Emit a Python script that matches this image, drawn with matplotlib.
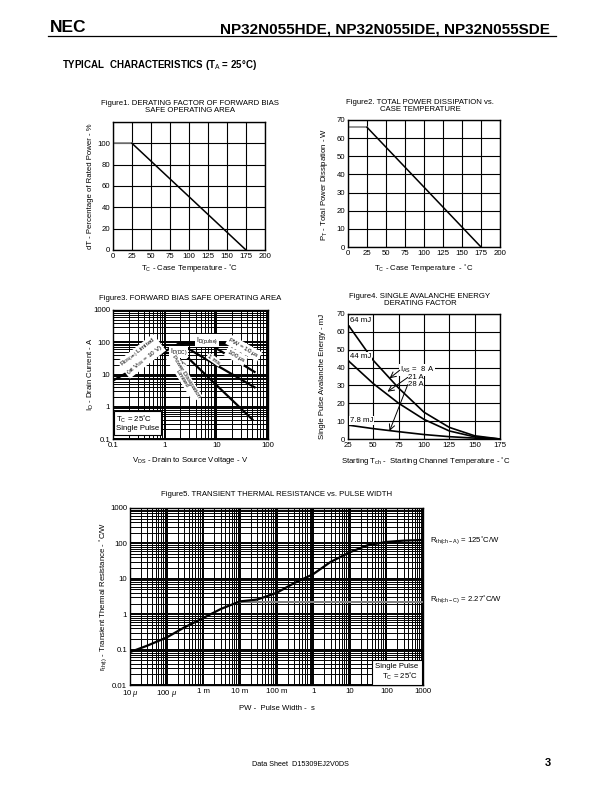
# NEC NP32N055 datasheet page 3 - typical characteristics
import numpy as np
import matplotlib
matplotlib.use('Agg')
import matplotlib.pyplot as plt
from matplotlib.ticker import LogLocator, NullFormatter, FixedLocator

plt.rcParams['font.family'] = ['Liberation Sans', 'DejaVu Sans']
plt.rcParams['mathtext.fontset'] = 'custom'
plt.rcParams['mathtext.rm'] = 'Liberation Sans'
plt.rcParams['mathtext.it'] = 'Liberation Sans:italic'

W, H = 612, 792
fs = 5.6

# figure 1 - derating factor
tc1 = [0, 25, 175]
dt1 = [100, 100, 0]
# figure 2 - total power dissipation
tc2 = [0, 25, 175]
pt2 = [66, 66, 0]
# figure 3 - forward bias SOA
rds_v = [0.1, 1.9]
rds_i = [6.5, 92]
idp_v = [1.9, 20]
idp_i = [92, 92]
pw10u_v = [20, 55]
pw10u_i = [92, 40]
pw100u_v = [7, 55]
pw100u_i = [92, 12]
pw1m_v = [1.9, 55]
pw1m_i = [92, 4]
iddc_v = [0.87, 2.3]
iddc_i = [45, 45]
dc_v = [2.3, 50]
dc_i = [45, 0.4]
# figure 4 - avalanche energy derating
tch = [25, 50, 75, 100, 125, 150, 175]
eas_8a = [64, 44, 28.5, 15, 6.5, 1.8, 0]
eas_21a = [44, 31, 20, 11, 4.5, 1.2, 0]
eas_28a = [7.8, 5.8, 4.1, 2.5, 1.3, 0.5, 0]
# figure 5 - transient thermal resistance
pw = [1e-5, 3e-5, 1e-4, 3e-4, 1e-3, 3e-3, 1e-2, 3e-2, 0.1, 0.3, 1, 3, 10, 30, 100, 300, 1000]
rth_a = [0.085, 0.13, 0.22, 0.42, 0.78, 1.4, 2.3, 2.6, 4.0, 7.5, 13.5, 30, 56, 88, 110, 120, 125]
pw_c = [0.01, 1000]
rth_c = [2.27, 2.27]
pw_ticks = [1e-5, 1e-4, 1e-3, 1e-2, 1e-1, 1, 10, 100, 1000]
pw_labels = ['10 $\\mu$', '100 $\\mu$', '1 m', '10 m', '100 m', '1', '10', '100', '1000']

fig = plt.figure(figsize=(W/100, H/100), dpi=100)

def px_axes(l, r, t, b):
    return fig.add_axes([l/W, 1-b/H, (r-l)/W, (b-t)/H])

def ftext(x, y, s, **kw):
    kw.setdefault('fontsize', fs)
    fig.text(x/W, 1-y/H, s, **kw)

def lin_style(ax):
    ax.grid(True, color='black', lw=0.8)
    ax.tick_params(length=0, labelsize=fs, pad=2)
    for s in ax.spines.values():
        s.set_linewidth(1.0)

def log_style(ax):
    for axis in [ax.xaxis, ax.yaxis]:
        axis.set_minor_locator(LogLocator(base=10, subs=np.arange(2, 10), numticks=20))
        axis.set_minor_formatter(NullFormatter())
    ax.grid(True, which='major', color='black', lw=1.4)
    ax.grid(True, which='minor', color='black', lw=0.7)
    ax.tick_params(which='both', length=0, labelsize=fs, pad=2)
    for s in ax.spines.values():
        s.set_linewidth(1.0)

# header
ftext(50, 28, 'NEC', fontsize=12.5, fontweight='bold', va='center')
ftext(550, 29, 'NP32N055HDE, NP32N055IDE, NP32N055SDE', fontsize=11, fontweight='bold', ha='right', va='center')
fig.add_artist(plt.Line2D([48/W, 556/W], [1-36/H, 1-36/H], color='black', lw=0.9))
ftext(62, 65, 'TYPICAL  CHARACTERISTICS (T$_{\\rm A}$ = 25°C)', fontsize=7, fontweight='bold', va='center')

# figure 1
ax1 = px_axes(113, 265, 122, 250)
ax1.plot(tc1[:2], dt1[:2], color='gray', lw=1.2)
ax1.plot(tc1[1:], dt1[1:], color='black', lw=1.1)
ax1.set_xlim(0, 200)
ax1.set_ylim(0, 120)
ax1.set_xticks(range(0, 201, 25))
ax1.yaxis.set_major_locator(FixedLocator(range(0, 121, 20)))
ax1.set_yticklabels(['0', '20', '40', '60', '80', '100', ''])
lin_style(ax1)
ftext(190, 107, 'Figure1. DERATING FACTOR OF FORWARD BIAS\nSAFE OPERATING AREA', ha='center', va='center', linespacing=0.85)
ftext(190, 268, 'T$_{\\rm C}$ - Case Temperature - ˚C', ha='center', va='center')
ftext(91, 186, 'dT - Percentage of Rated Power - %', rotation=90, ha='center', va='center')

# figure 2
ax2 = px_axes(348, 500, 120, 247)
ax2.plot(tc2[:2], pt2[:2], color='gray', lw=1.2)
ax2.plot(tc2[1:], pt2[1:], color='black', lw=1.1)
ax2.set_xlim(0, 200)
ax2.set_ylim(0, 70)
ax2.set_xticks(range(0, 201, 25))
ax2.set_yticks(range(0, 71, 10))
lin_style(ax2)
ftext(420, 106, 'Figure2. TOTAL POWER DISSIPATION vs.\nCASE TEMPERATURE', ha='center', va='center', linespacing=0.85)
ftext(424, 268, 'T$_{\\rm C}$ - Case Temperature  - ˚C', ha='center', va='center')
ftext(325, 184, 'P$_{\\rm T}$ - Total Power Dissipation - W', rotation=90, ha='center', va='center')

# figure 3
ax3 = px_axes(113, 268, 310, 439)
ax3.set_xscale('log')
ax3.set_yscale('log')
ax3.set_xlim(0.1, 100)
ax3.set_ylim(0.1, 1000)
for vx, iy in [(rds_v, rds_i), (idp_v, idp_i), (pw10u_v, pw10u_i), (pw100u_v, pw100u_i),
               (pw1m_v, pw1m_i), (iddc_v, iddc_i), (dc_v, dc_i)]:
    ax3.plot(vx, iy, color='black', lw=1.6, zorder=3)
ax3.set_xticks([0.1, 1, 10, 100])
ax3.set_xticklabels(['0.1', '1', '10', '100'])
ax3.set_yticks([0.1, 1, 10, 100, 1000])
ax3.set_yticklabels(['0.1', '1', '10', '100', '1000'])
log_style(ax3)
wb = dict(facecolor='white', edgecolor='none', pad=0.6)
ax3.text(0.36, 36, 'R$_{\\rm DS(on)}$ Limited\n(at V$_{\\rm GS}$ = 10 V)', fontsize=4.6, rotation=38,
         ha='center', va='center', bbox=wb, zorder=4, linespacing=0.9)
ax3.text(6.7, 112, 'I$_{\\rm D(pulse)}$', fontsize=5, ha='center', va='center', bbox=wb, zorder=4)
ax3.text(34, 66, 'PW = 10 $\\mu$s', fontsize=4.6, rotation=-30, ha='center', va='center', bbox=wb, zorder=4)
ax3.text(24, 37, '100 $\\mu$s', fontsize=4.6, rotation=-30, ha='center', va='center', bbox=wb, zorder=4)
ax3.text(9.0, 29, '1 ms', fontsize=4.6, rotation=-35, ha='center', va='center', bbox=wb, zorder=4)
ax3.text(1.85, 50, 'I$_{\\rm D(DC)}$', fontsize=5, ha='center', va='center', bbox=wb, zorder=4)
ax3.text(2.05, 21, 'DC', fontsize=4.6, rotation=-40, ha='center', va='center', bbox=wb, zorder=4)
ax3.text(2.4, 8.0, 'Power Dissipation\nLimited', fontsize=4.4, rotation=-58, ha='center', va='center',
         bbox=wb, zorder=4, linespacing=0.9)
ax3.text(0.115, 0.16, 'T$_{\\rm C}$ = 25˚C\nSingle Pulse', fontsize=5.6, ha='left', va='bottom', zorder=5,
         bbox=dict(facecolor='white', edgecolor='black', lw=0.8, pad=1.5), linespacing=1.0)
ftext(190, 298, 'Figure3. FORWARD BIAS SAFE OPERATING AREA', ha='center', va='center')
ftext(190, 461, 'V$_{\\rm DS}$ - Drain to Source Voltage - V', ha='center', va='center')
ftext(91, 374, 'I$_{\\rm D}$ - Drain Current - A', rotation=90, ha='center', va='center')

# figure 4
ax4 = px_axes(348, 500, 314, 439)
ax4.plot(tch, eas_8a, color='black', lw=1.2)
ax4.plot(tch, eas_21a, color='black', lw=1.2)
ax4.plot(tch, eas_28a, color='black', lw=1.2)
ax4.set_xlim(25, 175)
ax4.set_ylim(0, 70)
ax4.set_xticks(range(25, 176, 25))
ax4.set_yticks(range(0, 71, 10))
lin_style(ax4)
ax4.text(27, 64.5, '64 mJ', fontsize=fs, va='bottom', bbox=wb)
ax4.text(27, 44.5, '44 mJ', fontsize=fs, va='bottom', bbox=wb)
ax4.text(27, 8.4, '7.8 mJ', fontsize=fs, va='bottom', bbox=wb)
ax4.text(76, 38.5, 'I$_{\\rm AS}$ =  8 A', fontsize=fs, va='center', bbox=wb)
ax4.text(84, 34.5, '21 A', fontsize=fs, va='center', bbox=wb)
ax4.text(84, 30.5, '28 A', fontsize=fs, va='center', bbox=wb)
arr = dict(arrowstyle='->', lw=0.7, color='black', shrinkA=0, shrinkB=0)
ax4.annotate('', xy=(66, 34), xytext=(76, 38.5), arrowprops=arr)
ax4.annotate('', xy=(64, 26.5), xytext=(84, 34.5), arrowprops=arr)
ax4.annotate('', xy=(66, 4.5), xytext=(84, 30.5), arrowprops=arr)
ftext(420, 300, 'Figure4. SINGLE AVALANCHE ENERGY\nDERATING FACTOR', ha='center', va='center', linespacing=0.85)
ftext(426, 461, 'Starting T$_{\\rm ch}$ -  Starting Channel Temperature - ˚C', ha='center', va='center')
ftext(322, 376, 'Single Pulse Avalanche Energy - mJ', rotation=90, ha='center', va='center')

# figure 5
ax5 = px_axes(130, 423, 508, 685)
ax5.set_xscale('log')
ax5.set_yscale('log')
ax5.set_xlim(1e-5, 1000)
ax5.set_ylim(0.01, 1000)
ax5.plot(pw_c, rth_c, color='gray', lw=1.4, zorder=3)
ax5.plot(pw, rth_a, color='black', lw=1.6, zorder=3)
ax5.set_xticks(pw_ticks)
ax5.set_xticklabels(pw_labels)
ax5.set_yticks([0.01, 0.1, 1, 10, 100, 1000])
ax5.set_yticklabels(['0.01', '0.1', '1', '10', '100', '1000'])
log_style(ax5)
ax5.text(1000*0.75, 0.0125, 'Single Pulse\nT$_{\\rm C}$ = 25˚C', fontsize=fs, ha='right', va='bottom', zorder=5,
         bbox=dict(facecolor='white', edgecolor='black', lw=0.8, pad=2.5), linespacing=1.1)
ftext(430, 540, 'R$_{\\rm th(ch-A)}$ = 125˚C/W', va='center')
ftext(430, 599, 'R$_{\\rm th(ch-C)}$ = 2.27˚C/W', va='center')
ftext(277, 494, 'Figure5. TRANSIENT THERMAL RESISTANCE vs. PULSE WIDTH', ha='center', va='center')
ftext(277, 709, 'PW -  Pulse Width -  s', ha='center', va='center')
ftext(103, 596, 'r$_{\\rm th(t)}$ - Transient Thermal Resistance - ˚C/W', rotation=90, ha='center', va='center')

# footer
ftext(300, 764, 'Data Sheet  D15309EJ2V0DS', fontsize=5.2, ha='center', va='center')
ftext(548, 763, '3', fontsize=8, fontweight='bold', ha='center', va='center')

fig.savefig('out.png', dpi=100)
